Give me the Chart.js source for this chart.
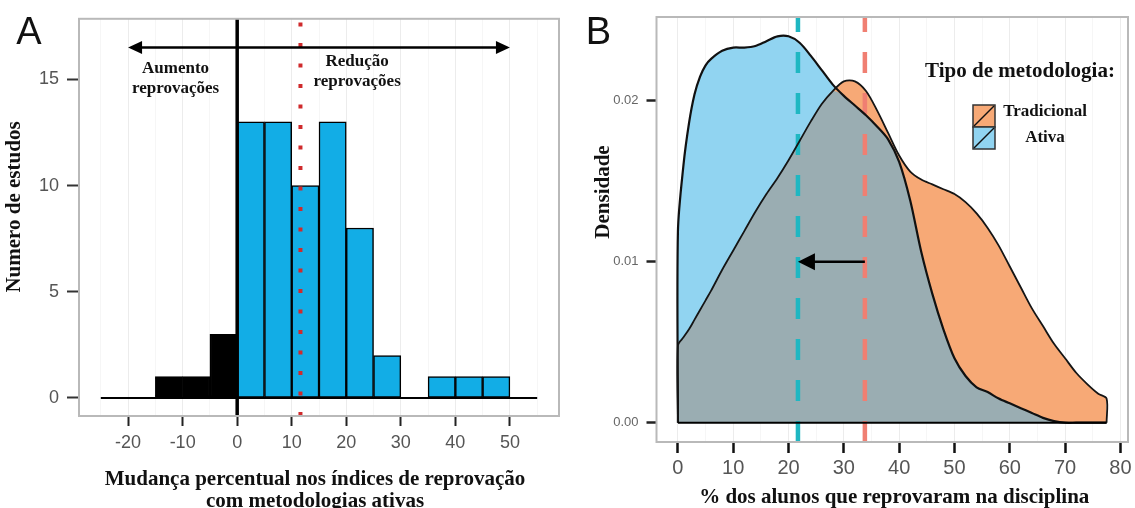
<!DOCTYPE html>
<html>
<head>
<meta charset="utf-8">
<script src="https://cdn.jsdelivr.net/npm/chart.js@4.4.1/dist/chart.umd.min.js"></script>
<style>
  html, body { margin: 0; padding: 0; background: #fff; overflow: hidden; }
  #wrap { position: relative; width: 1135px; height: 508px; }
  .panel { position: absolute; top: 0; height: 508px; }
  #panel-a { left: 0; width: 567px; }
  #panel-b { left: 567px; width: 568px; }
</style>
</head>
<body>
<div id="wrap">
  <div class="panel" id="panel-a"><canvas id="chart-a"></canvas></div>
  <div class="panel" id="panel-b"><canvas id="chart-b"></canvas></div>
</div>
<script>
// --- painel A: histograma
const binStarts   = [-25, -20, -15, -10, -5, 0, 5, 10, 15, 20, 25, 30, 35, 40, 45, 50];
const binWidth    = 5;
const studyCounts = [0, 0, 1, 1, 3, 13, 13, 10, 13, 8, 2, 0, 1, 1, 1, 0];
const meanChange  = 11.6;
const arrowLevel  = 16.5;
const arrowSpan   = [-20, 50];
const aumentoLabel = { x: -11.3, y: 15.5, lines: ['Aumento', 'reprovações'] };
const reducaoLabel = { x: 22, y: 15.85, lines: ['Redução', 'reprovações'] };

// --- painel B: densidades
const densityX = [0, 1, 2, 3, 4, 5, 6, 8, 10, 12, 14, 16, 18, 20, 22, 24, 26, 28, 30, 32, 34, 36, 38,
  40, 42, 44, 46, 48, 50, 52, 54, 56, 58, 60, 62, 64, 66, 68, 70, 72, 74, 76, 77.5];
const ativaDensity = [0.0119, 0.0160, 0.0186, 0.0204, 0.0215, 0.0222, 0.0226,
  0.0231, 0.0233, 0.0233, 0.0234, 0.0237, 0.0240, 0.0240, 0.0236, 0.0228, 0.0219,
  0.0210, 0.0203, 0.0197, 0.0191, 0.0184, 0.0176, 0.0162, 0.0138, 0.0106, 0.0080,
  0.0058, 0.0040, 0.0029, 0.0022, 0.0019, 0.0015, 0.0012, 0.0009, 0.0006, 0.0003,
  0.0001, 0, 0, 0, 0, 0];
const tradicionalDensity = [0.0048, 0.0053, 0.0058, 0.0064, 0.0070, 0.0076, 0.0082,
  0.0095, 0.0107, 0.0119, 0.0131, 0.0142, 0.0152, 0.0163, 0.0175, 0.0187, 0.0198,
  0.0206, 0.0212, 0.0212, 0.0206, 0.0194, 0.0180, 0.0166, 0.0156, 0.0151, 0.0148,
  0.0145, 0.0142, 0.0137, 0.0130, 0.0121, 0.0110, 0.0097, 0.0084, 0.0071, 0.0060,
  0.0049, 0.0040, 0.0031, 0.0024, 0.0018, 0.0015];
const metodologias    = ['Tradicional', 'Ativa'];
const meanTradicional = 33.8;
const meanAtiva       = 21.7;
const shiftArrowLevel = 0.01;

const SERIF = "'Liberation Serif', 'Times New Roman', serif";
const SANS  = "'Liberation Sans', Arial, sans-serif";
const COLORS = {
  bluebar: '#12ade6',
  ativa: '#91d4f1',
  tradicional: '#f7a976',
  overlap: '#9aadb2',
  cyan: '#1fb7c2',
  salmon: '#f07f72',
  red: '#cf2a2c',
};

Chart.defaults.font.family = SANS;
Chart.defaults.color = '#555';
Chart.defaults.animation = false;

function arrowHead(ctx, x, y, dir, len, half) {
  ctx.beginPath();
  ctx.moveTo(x, y);
  ctx.lineTo(x - dir * len, y - half);
  ctx.lineTo(x - dir * len, y + half);
  ctx.closePath();
  ctx.fill();
}

// moldura, letra do painel e títulos dos eixos
const panelFrame = {
  id: 'panelFrame',
  beforeDraw(chart) {
    const { ctx } = chart;
    ctx.save();
    ctx.fillStyle = '#fff';
    ctx.fillRect(0, 0, chart.width, chart.height);
    ctx.restore();
  },
  afterDraw(chart, args, o) {
    const { ctx, chartArea: a } = chart;
    ctx.save();
    ctx.strokeStyle = '#b9b9b9';
    ctx.lineWidth = 2;
    ctx.strokeRect(a.left, a.top, a.right - a.left, a.bottom - a.top);

    ctx.fillStyle = '#111';
    ctx.textAlign = 'center';
    ctx.textBaseline = 'middle';
    ctx.font = `38px ${SANS}`;
    ctx.fillText(o.letter, o.letterX, 34);

    ctx.font = `bold 21px ${SERIF}`;
    const cx = (a.left + a.right) / 2 + o.xTitleDx;
    o.xTitle.forEach((t, i) => ctx.fillText(t, cx, o.xTitleY + i * 22));
    ctx.translate(o.yTitleX, o.yTitleY);
    ctx.rotate(-Math.PI / 2);
    ctx.fillText(o.yTitle, 0, 0);
    ctx.restore();
  },
};

const histDecor = {
  id: 'histDecor',
  afterDatasetsDraw(chart) {
    const { ctx, chartArea: a, scales: { x, y } } = chart;
    ctx.save();
    // linha vertical em zero
    const x0 = x.getPixelForValue(0);
    ctx.strokeStyle = '#000';
    ctx.lineWidth = 3.5;
    ctx.beginPath(); ctx.moveTo(x0, a.top); ctx.lineTo(x0, a.bottom); ctx.stroke();

    // média (pontilhada vermelha)
    const xm = x.getPixelForValue(meanChange);
    ctx.strokeStyle = COLORS.red;
    ctx.lineWidth = 4;
    ctx.setLineDash([4, 16.5]);
    ctx.beginPath(); ctx.moveTo(xm, a.bottom); ctx.lineTo(xm, a.top); ctx.stroke();
    ctx.setLineDash([]);

    // seta dupla
    const ya = y.getPixelForValue(arrowLevel);
    const xl = x.getPixelForValue(arrowSpan[0]);
    const xr = x.getPixelForValue(arrowSpan[1]);
    ctx.strokeStyle = '#000';
    ctx.fillStyle = '#000';
    ctx.lineWidth = 2.5;
    ctx.beginPath(); ctx.moveTo(xl + 8, ya); ctx.lineTo(xr - 8, ya); ctx.stroke();
    arrowHead(ctx, xl, ya, -1, 14, 6.5);
    arrowHead(ctx, xr, ya, 1, 14, 6.5);

    ctx.font = `bold 17px ${SERIF}`;
    ctx.fillStyle = '#111';
    ctx.textAlign = 'center';
    ctx.textBaseline = 'middle';
    [aumentoLabel, reducaoLabel].forEach(l => {
      const lx = x.getPixelForValue(l.x);
      const ly = y.getPixelForValue(l.y);
      l.lines.forEach((t, i) => ctx.fillText(t, lx, ly + i * 20));
    });
    ctx.restore();
  },
};

const densityDecor = {
  id: 'densityDecor',
  beforeDatasetsDraw(chart) {
    const { ctx, chartArea: a, scales: { x } } = chart;
    ctx.save();
    ctx.lineWidth = 4.5;
    ctx.setLineDash([21, 20]);
    [[meanAtiva, COLORS.cyan], [meanTradicional, COLORS.salmon]].forEach(([v, c]) => {
      const px = x.getPixelForValue(v);
      ctx.strokeStyle = c;
      ctx.beginPath(); ctx.moveTo(px, a.bottom); ctx.lineTo(px, a.top); ctx.stroke();
    });
    ctx.restore();
  },
  afterDatasetsDraw(chart) {
    const { ctx, scales: { x, y } } = chart;
    ctx.save();
    const ya = y.getPixelForValue(shiftArrowLevel);
    const xs = x.getPixelForValue(meanTradicional);
    const xe = x.getPixelForValue(meanAtiva);
    ctx.strokeStyle = '#000';
    ctx.fillStyle = '#000';
    ctx.lineWidth = 2.5;
    ctx.beginPath(); ctx.moveTo(xs, ya); ctx.lineTo(xe + 10, ya); ctx.stroke();
    arrowHead(ctx, xe, ya, -1, 17, 8.5);
    ctx.restore();
  },
  afterDraw(chart) {
    // legenda
    const { ctx } = chart;
    const fills = [COLORS.tradicional, COLORS.ativa];
    ctx.save();
    ctx.fillStyle = '#111';
    ctx.textAlign = 'center';
    ctx.textBaseline = 'middle';
    ctx.font = `bold 21px ${SERIF}`;
    ctx.fillText('Tipo de metodologia:', 453, 72);
    ctx.font = `bold 17px ${SERIF}`;
    metodologias.forEach((name, i) => {
      const bx = 406, by = 105 + i * 22, s = 22;
      ctx.fillStyle = fills[i];
      ctx.fillRect(bx, by, s, s);
      ctx.strokeStyle = '#333';
      ctx.lineWidth = 1.5;
      ctx.strokeRect(bx, by, s, s);
      ctx.strokeStyle = '#111';
      ctx.beginPath(); ctx.moveTo(bx + 1, by + s - 1); ctx.lineTo(bx + s - 1, by + 1); ctx.stroke();
      ctx.fillStyle = '#111';
      ctx.fillText(name, 478, by + (i === 0 ? 7 : 11));
    });
    ctx.restore();
  },
};

const tickEvery10 = v => (v % 10 === 0 ? String(v) : '');
const minorGrid = c => (c.tick && c.tick.value % 10 === 0 ? '#ececec' : '#f6f6f6');

// --- gráfico A
new Chart(document.getElementById('chart-a'), {
  type: 'bar',
  data: {
    datasets: [
      {
        type: 'line',
        data: [{ x: binStarts[0], y: 0 }, { x: binStarts[binStarts.length - 1] + binWidth, y: 0 }],
        borderColor: '#000',
        borderWidth: 2,
        pointRadius: 0,
        order: 0,
      },
      {
        data: binStarts.map((s, i) => ({ x: s + binWidth / 2, y: studyCounts[i] })),
        backgroundColor: binStarts.map(s => (s < 0 ? '#000' : COLORS.bluebar)),
        borderColor: '#000',
        borderWidth: 1.5,
        borderSkipped: false,
        barPercentage: 1,
        categoryPercentage: 1,
        order: 1,
      },
    ],
  },
  options: {
    responsive: true,
    maintainAspectRatio: false,
    layout: { padding: { left: 0, top: 17, right: 8, bottom: 0 } },
    plugins: {
      legend: { display: false },
      tooltip: { enabled: false },
      panelFrame: {
        letter: 'A', letterX: 29,
        xTitle: ['Mudança percentual nos índices de reprovação', 'com metodologias ativas'],
        xTitleY: 480, xTitleDx: -4,
        yTitle: 'Numero de estudos', yTitleX: 15, yTitleY: 207,
      },
    },
    scales: {
      x: {
        type: 'linear', min: -29, max: 59, offset: false,
        border: { display: false },
        grid: { offset: false, color: minorGrid, tickLength: 10, tickWidth: 2,
          tickColor: c => (c.tick.value % 10 === 0 ? '#222' : 'rgba(0,0,0,0)') },
        ticks: { stepSize: 5, includeBounds: false, autoSkip: false, maxRotation: 0, padding: 6,
          color: '#555', font: { size: 18 },
          callback: v => (v >= -20 && v <= 50 ? tickEvery10(v) : '') },
        afterFit: s => { s.height = 92; },
      },
      y: {
        min: -0.85, max: 17.85,
        border: { display: false },
        grid: { drawOnChartArea: false, tickLength: 12, tickWidth: 2, tickColor: '#333' },
        ticks: { stepSize: 5, includeBounds: false, padding: 8, color: '#555', font: { size: 18 } },
        afterFit: s => { s.width = 79; },
      },
    },
  },
  plugins: [panelFrame, histDecor],
});

// --- gráfico B
const curve = ys => [
  { x: densityX[0], y: 0 },
  ...densityX.map((x, i) => ({ x, y: ys[i] })),
  { x: densityX[densityX.length - 1], y: 0 },
];
const overlapDensity = ativaDensity.map((v, i) => Math.min(v, tradicionalDensity[i]));

new Chart(document.getElementById('chart-b'), {
  type: 'line',
  data: {
    datasets: [
      {
        data: [{ x: densityX[0], y: 0 }, { x: densityX[densityX.length - 1], y: 0 }],
        borderColor: '#000', borderWidth: 2, pointRadius: 0, fill: false, order: 0,
      },
      {
        data: curve(overlapDensity),
        backgroundColor: COLORS.overlap, borderWidth: 0, pointRadius: 0,
        fill: 'origin', tension: 0.3, order: 1,
      },
      {
        label: metodologias[0],
        data: curve(tradicionalDensity),
        backgroundColor: COLORS.tradicional, borderColor: '#151515', borderWidth: 1.8,
        pointRadius: 0, fill: 'origin', tension: 0.3, order: 2,
      },
      {
        label: metodologias[1],
        data: curve(ativaDensity),
        backgroundColor: COLORS.ativa, borderColor: '#111', borderWidth: 2.2,
        pointRadius: 0, fill: 'origin', tension: 0.3, order: 3,
      },
    ],
  },
  options: {
    responsive: true,
    maintainAspectRatio: false,
    layout: { padding: { left: 0, top: 17, right: 7, bottom: 0 } },
    plugins: {
      legend: { display: false },
      tooltip: { enabled: false },
      filler: { propagate: false, drawTime: 'beforeDatasetsDraw' },
      panelFrame: {
        letter: 'B', letterX: 31.5,
        xTitle: ['% dos alunos que reprovaram na disciplina'],
        xTitleY: 497.5, xTitleDx: 2,
        yTitle: 'Densidade', yTitleX: 37, yTitleY: 192,
      },
    },
    scales: {
      x: {
        type: 'linear', min: -3.875, max: 81.375,
        border: { display: false },
        grid: { color: minorGrid, tickLength: 11, tickWidth: 2.5,
          tickColor: c => (c.tick.value % 10 === 0 ? '#111' : 'rgba(0,0,0,0)') },
        ticks: { stepSize: 5, includeBounds: false, autoSkip: false, maxRotation: 0, padding: 3,
          color: '#555', font: { size: 20 }, callback: tickEvery10 },
        afterFit: s => { s.height = 66; },
      },
      y: {
        min: -0.0012, max: 0.0252,
        border: { display: false },
        grid: { drawOnChartArea: false, tickLength: 10, tickWidth: 2.5, tickColor: '#222' },
        ticks: { stepSize: 0.01, includeBounds: false, padding: 8, color: '#666', font: { size: 13 },
          callback: v => v.toFixed(2) },
        afterFit: s => { s.width = 89.5; },
      },
    },
  },
  plugins: [panelFrame, densityDecor],
});
</script>
</body>
</html>
